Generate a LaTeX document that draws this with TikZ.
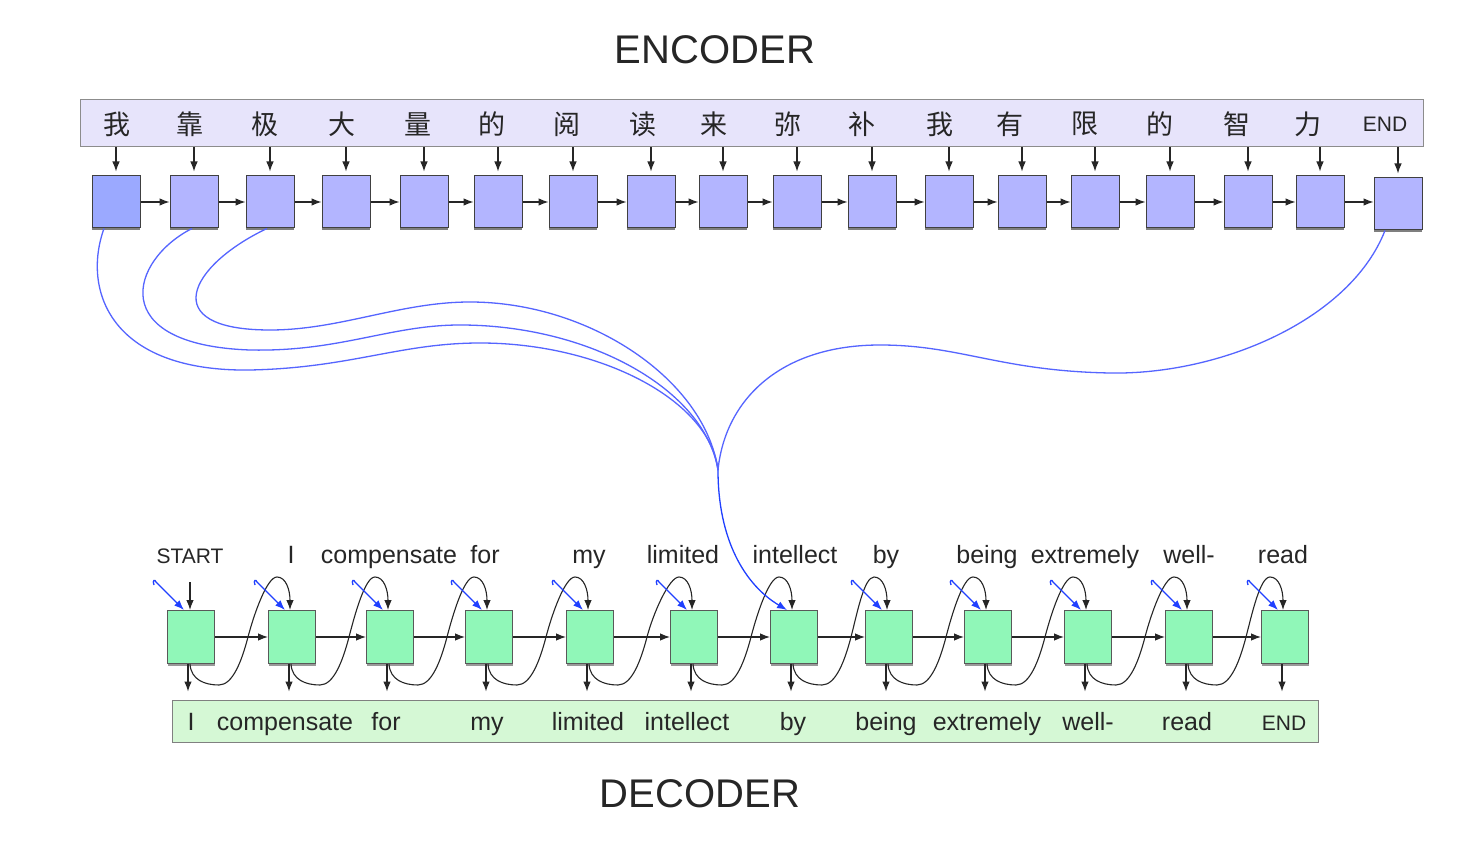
\documentclass[tikz,border=0pt]{standalone}
\usepackage{fontspec}
\setmainfont{Liberation Sans}
\newfontfamily\cjk{Noto Sans CJK SC}
\usetikzlibrary{arrows.meta,shadows,calc}
\definecolor{encfill}{HTML}{B3B5FF}
\definecolor{encfirst}{HTML}{9BA9FF}
\definecolor{encbar}{HTML}{E7E4FB}
\definecolor{decfill}{HTML}{90F7B8}
\definecolor{decbar}{HTML}{D5F8D5}
\definecolor{attncol}{HTML}{5565FF}
\definecolor{inblue}{HTML}{2040FF}
\definecolor{txt}{HTML}{262626}
\newcommand\smallw{\fontsize{21}{24}\selectfont}
\tikzset{
  encbox/.style={draw=black!75, line width=1pt, fill=encfill, minimum width=48pt, minimum height=52pt, inner sep=0pt,
    drop shadow={shadow xshift=0.3pt, shadow yshift=-2.5pt, opacity=0.5, fill=black}},
  decbox/.style={draw=black!65, line width=1pt, fill=decfill, minimum width=47pt, minimum height=53pt, inner sep=0pt,
    drop shadow={shadow xshift=0.3pt, shadow yshift=-2pt, opacity=0.4, fill=black}},
  ebarsty/.style={draw=black!45, line width=1pt, fill=encbar, minimum width=1343pt, minimum height=47pt, inner sep=0pt},
  dbarsty/.style={draw=black!50, line width=1pt, fill=decbar, minimum width=1146pt, minimum height=42pt, inner sep=0pt},
  cjkch/.style={font=\cjk\fontsize{27}{30}\selectfont, text=txt, inner sep=0pt},
  endlab/.style={font=\fontsize{21}{24}\selectfont, text=txt, inner sep=0pt},
  word/.style={font=\fontsize{25}{28}\selectfont, text=txt, inner sep=0pt, anchor=base},
  titlesty/.style={font=\fontsize{40}{44}\selectfont, text=txt, inner sep=0pt, anchor=base},
  arr/.style={-{Latex[length=10pt,width=7.5pt]}, line width=1.1pt, draw=black!85},
  inarr/.style={-{Latex[length=10pt,width=7.5pt]}, line width=1.3pt, draw=inblue},
  attn/.style={draw=attncol, line width=1.3pt},
}
\begin{document}
\begin{tikzpicture}[x=1pt,y=-1pt]
\useasboundingbox (0,0) rectangle (1484,858);
\fill[white] (0,0) rectangle (1484,858);

% titles
\node[titlesty] (enc) at (715,64) {ENCODER};
\node[titlesty] (dec) at (700,807) {DECODER};

% encoder
\node[ebarsty] (ebar) at (751.5,123.5) {};
\node[encbox, fill=encfirst] (e1) at (116,202) {};
\node[cjkch] (t1) at (117,124) {我};
\foreach \i/\bx/\cx/\ch in {2/194/190/靠, 3/270/265/极, 4/346/342/大, 5/424/418/量, 6/498/492/的, 7/573/567/阅, 8/651/643/读, 9/723/714/来, 10/797/788/弥, 11/872/862/补, 12/949/940/我, 13/1022/1010/有, 14/1095/1085/限, 15/1170/1160/的, 16/1248/1237/智, 17/1320/1308/力}{
  \node[encbox] (e\i) at (\bx,202) {};
  \node[cjkch] (t\i) at (\cx,124) {\ch};
}
\node[encbox] (e18) at (1398,204) {};
\node[endlab] (t18) at (1385,124) {END};

\foreach \i in {1,...,18}{
  \draw[arr] (e\i.north |- ebar.south) -- ([yshift=4pt]e\i.north);
}
\foreach \i [evaluate=\i as \j using int(\i+1)] in {1,...,17}{
  \draw[arr] (e\i.east) -- (e\i.east -| e\j.west);
}

% decoder
\node[dbarsty] (dbar) at (745,721) {};
\foreach \i/\c/\tx/\tw/\ox/\ow in {
  1/191/190/{\smallw START}/191/I,
  2/292/291/I/285/compensate,
  3/390/389/compensate/386/for,
  4/489/485/for/487/my,
  5/590/589/my/588/limited,
  6/694/683/limited/687/intellect,
  7/794/795/intellect/793/by,
  8/889/886/by/886/being,
  9/988/987/being/987/extremely,
  10/1088/1085/extremely/1088/well-,
  11/1189/1189/well-/1187/read,
  12/1285/1283/read/1284/{\smallw END}}{
  \node[decbox] (d\i) at (\c,637) {};
  \node[word] (w\i) at (\tx,563) {\tw};
  \node[word] (o\i) at (\ox,730) {\ow};
}

% outputs
\foreach \i in {1,...,12}{
  \draw[arr, shorten >=8pt] ([xshift=-3pt]d\i.south) -- ([xshift=-3pt]d\i.south |- dbar.north);
}
% state arrows
\foreach \i [evaluate=\i as \j using int(\i+1)] in {1,...,11}{
  \draw[arr] (d\i.east) -- (d\j.west);
}
% feedback curves
\foreach \i [evaluate=\i as \j using int(\i+1)] in {1,...,11}{
  \draw[arr] ([xshift=-1pt]d\i.south)
     .. controls ($(d\i.south)+(0,16)$) and ($(d\i.south)+(14,21)$) .. ($(d\i.south)+(28,21)$)
     .. controls ($(d\i.south)+(42,21)$) and ($(d\i.south)+(51,-4)$) .. ($(d\i.south)+(57,-27)$)
     .. controls ($(d\i.south)+(63,-50)$) and ($(d\j.north)+(-25,-33)$) .. ($(d\j.north)+(-15,-33)$)
     .. controls ($(d\j.north)+(-6,-33)$) and ($(d\j.north)+(-2,-20)$) .. ([xshift=-2pt]d\j.north);
}
% start input
\coordinate (s0) at (190,582);
\draw[arr] (s0) -- ([xshift=-1pt]d1.north);

% blue short inputs
\foreach \i in {1,2,3,4,5,6,8,9,10,11,12}{
  \draw[inarr] ($(d\i.north)+(-37,-25)$)
     .. controls ($(d\i.north)+(-39,-30)$) and ($(d\i.north)+(-36,-31)$) .. ($(d\i.north)+(-35,-28)$)
     -- ([xshift=-7pt]d\i.north);
}

% attention curves
\coordinate (conv) at (718,470);
\draw[attn] ([xshift=-12pt]e1.south) .. controls (82,290) and (110,372) .. (250,370)
   .. controls (350,368) and (400,343) .. (480,343)
   .. controls (600,343) and (710,400) .. (conv);
\draw[attn] ([xshift=-2pt]e2.south) .. controls (130,260) and (105,345) .. (250,350)
   .. controls (340,352) and (390,325) .. (460,325)
   .. controls (590,325) and (705,390) .. (conv);
\draw[attn] ([xshift=-3pt]e3.south) .. controls (190,265) and (155,330) .. (270,330)
   .. controls (340,330) and (400,302) .. (470,302)
   .. controls (590,302) and (705,380) .. (conv);
\draw[attn] ([xshift=-13pt]e18.south) .. controls (1350,320) and (1220,375) .. (1110,373)
   .. controls (1000,371) and (960,345) .. (880,345)
   .. controls (780,345) and (725,400) .. (conv);
\draw[inarr] (conv) .. controls (718,540) and (745,585) .. ([xshift=-7pt]d7.north);
\end{tikzpicture}
\end{document}
